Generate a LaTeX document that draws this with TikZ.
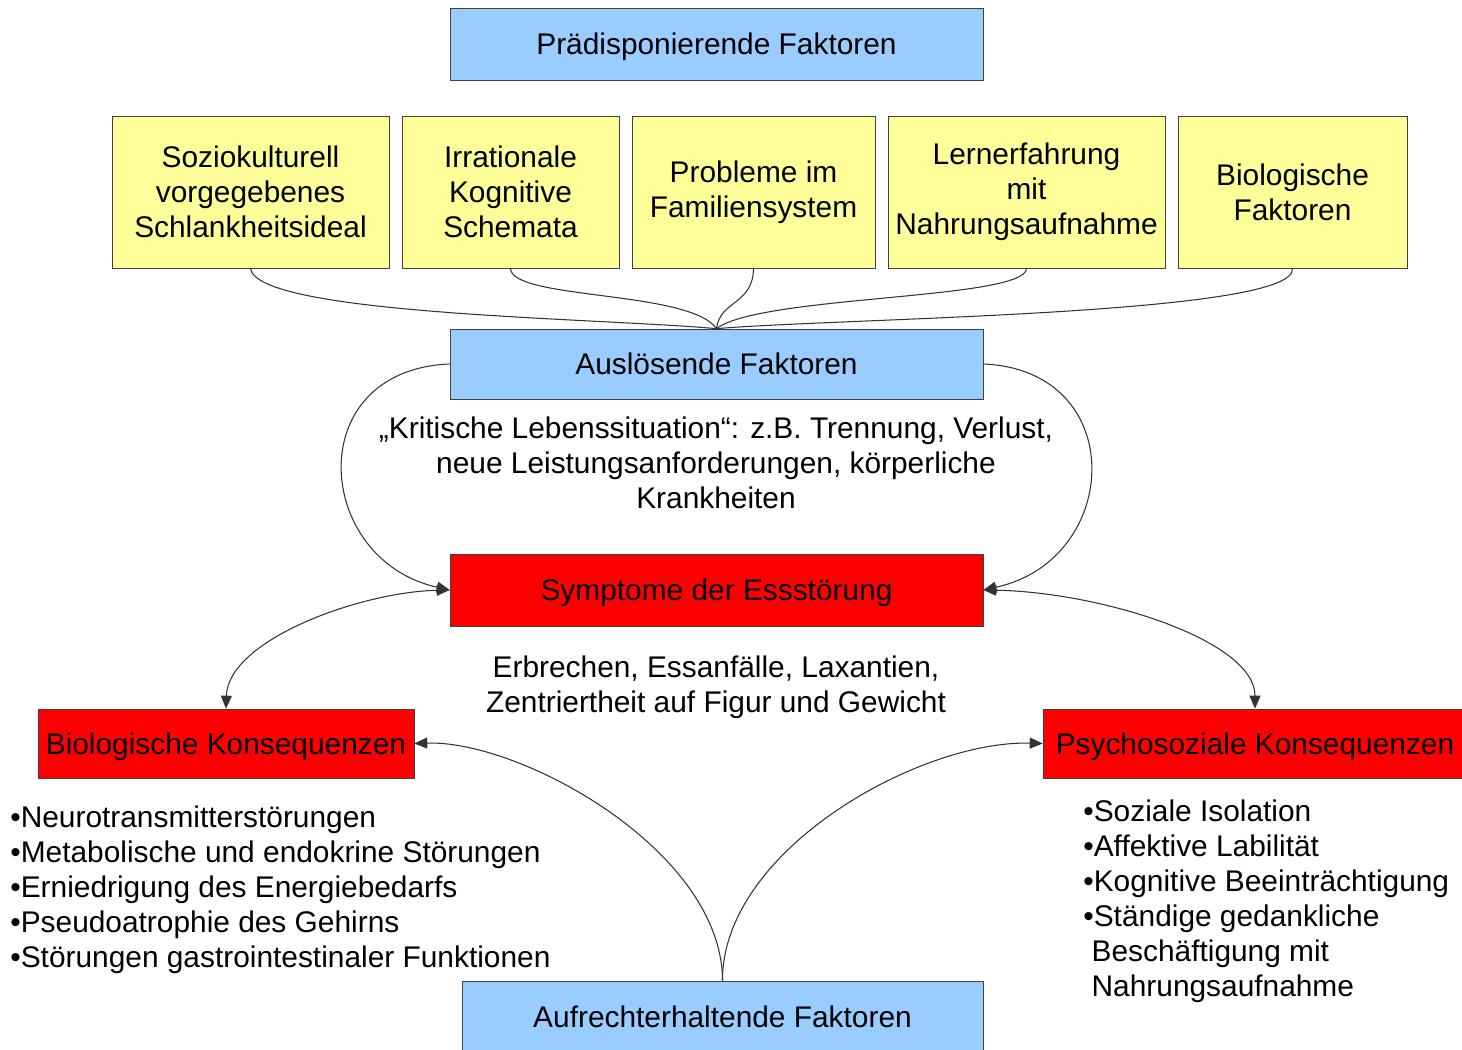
\documentclass[tikz,border=0pt]{standalone}
\usepackage{fontspec}
\setmainfont{Liberation Sans}
\usetikzlibrary{arrows.meta}
\definecolor{faktorblau}{HTML}{99CCFF}
\definecolor{faktorgelb}{HTML}{FFFF99}
\definecolor{folgerot}{HTML}{FF0000}
\begin{document}
\begin{tikzpicture}[x=0.02cm,y=-0.02cm,
        every node/.style={font=\fontsize{17}{20}\selectfont, align=center},
        blaubox/.style={draw=black!75, fill=faktorblau, minimum width=10.66cm, minimum height=1.44cm, inner sep=0pt, text depth=0pt},
        gelbbox/.style={draw=black!75, fill=faktorgelb, minimum height=3.04cm, inner sep=0pt},
        rotbox/.style={draw=black!75, fill=folgerot, minimum height=1.38cm, inner sep=0pt, text depth=0pt},
        linie/.style={draw=black!80, line width=0.6pt},
        pfeil/.style={linie, -{Triangle[length=0.26cm,width=0.22cm]}},
        doppelpfeil/.style={linie, {Triangle[length=0.26cm,width=0.22cm]}-{Triangle[length=0.26cm,width=0.22cm]}}]
    \useasboundingbox (0,0) rectangle (1462,1050);

    % Praedisponierende Faktoren
    \node[blaubox] (praed) at (716.5,44) {Prädisponierende Faktoren};
    \node[gelbbox, minimum width=5.54cm] (sozio) at (250.5,192) {Soziokulturell\\vorgegebenes\\Schlankheitsideal};
    \node[gelbbox, minimum width=4.34cm] (irrat) at (510.5,192) {Irrationale\\Kognitive\\Schemata};
    \node[gelbbox, minimum width=4.86cm] (famil) at (753.5,192) {Probleme im\\Familiensystem};
    \node[gelbbox, minimum width=5.54cm] (lernen) at (1026.5,192) {Lernerfahrung\\mit\\Nahrungsaufnahme};
    \node[gelbbox, minimum width=4.58cm] (biofak) at (1292.5,192) {Biologische\\Faktoren};

    % Ausloesende Faktoren
    \node[blaubox, minimum height=1.4cm] (ausl) at (716.5,364) {Auslösende Faktoren};
    \node (krit) at (716,463) {„Kritische Lebenssituation“: z.B. Trennung, Verlust,\\neue Leistungsanforderungen, körperliche\\Krankheiten};

    % zusammenlaufende Linien
    \draw[linie] (sozio.south) .. controls (256,315) and (600,318) .. (ausl.north);
    \draw[linie] (irrat.south) .. controls (511,300) and (690,290) .. (ausl.north);
    \draw[linie] (famil.south) .. controls (753,305) and (720,300) .. (ausl.north);
    \draw[linie] (lernen.south) .. controls (1026,300) and (760,295) .. (ausl.north);
    \draw[linie] (biofak.south) .. controls (1298,315) and (840,318) .. (ausl.north);

    % Symptome
    \node[rotbox, minimum width=10.66cm, minimum height=1.44cm] (sympt) at (716.5,590) {Symptome der Essstörung};
    \node (erbr) at (716,687) {Erbrechen, Essanfälle, Laxantien,\\Zentriertheit auf Figur und Gewicht};

    \draw[pfeil] (ausl.west) .. controls (300,370) and (314,560) .. (sympt.west);
    \draw[pfeil] (ausl.east) .. controls (1130,370) and (1122,560) .. (sympt.east);

    % Konsequenzen
    \node[rotbox, minimum width=7.52cm] (biokon) at (226,743.5) {Biologische Konsequenzen};
    \node[rotbox, minimum width=8.48cm] (psykon) at (1255,743.5) {Psychosoziale Konsequenzen};

    \draw[doppelpfeil] (biokon.north) .. controls (228,640) and (360,592) .. (sympt.west);
    \draw[doppelpfeil] (psykon.north) .. controls (1255,640) and (1100,592) .. (sympt.east);

    \node[align=left, anchor=north west, inner sep=0pt] (biolist) at (10,805) {•Neurotransmitterstörungen\\•Metabolische und endokrine Störungen\\•Erniedrigung des Energiebedarfs\\•Pseudoatrophie des Gehirns\\•Störungen gastrointestinaler Funktionen};
    \node[align=left, anchor=north west, inner sep=0pt] (psylist) at (1083,799) {•Soziale Isolation\\•Affektive Labilität\\•Kognitive Beeinträchtigung\\•Ständige gedankliche\\\ Beschäftigung mit\\\ Nahrungsaufnahme};

    % Aufrechterhaltende Faktoren
    \node[blaubox, minimum width=10.42cm] (aufr) at (722.5,1017) {Aufrechterhaltende Faktoren};
    \draw[pfeil] (aufr.north) .. controls (722,850) and (520,740) .. (biokon.east);
    \draw[pfeil] (aufr.north) .. controls (722,850) and (920,740) .. (psykon.west);
\end{tikzpicture}
\end{document}
